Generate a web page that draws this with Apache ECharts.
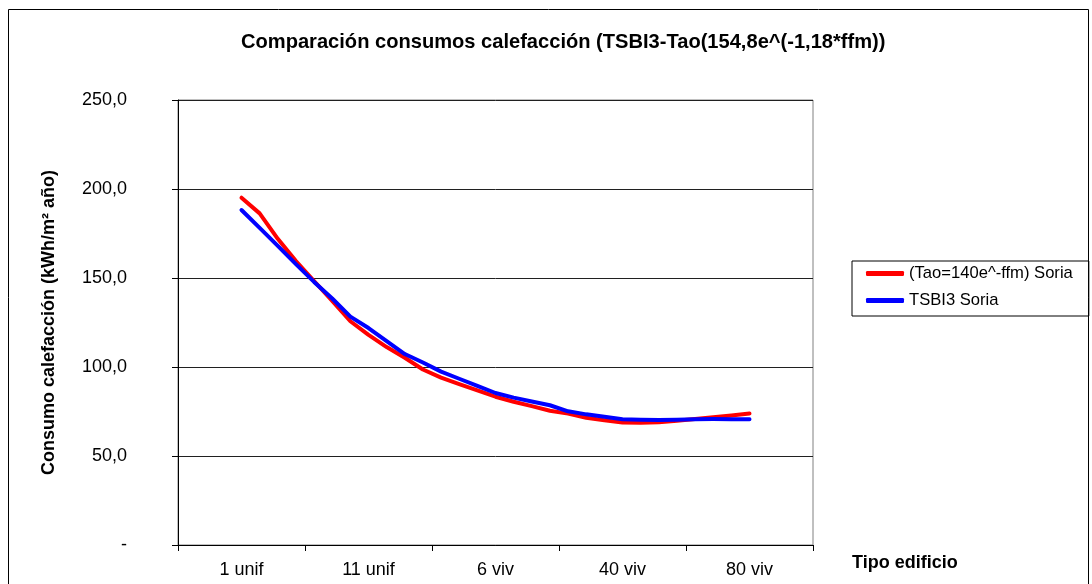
<!DOCTYPE html>
<html>
<head>
<meta charset="utf-8">
<script src="https://cdn.jsdelivr.net/npm/echarts@6/dist/echarts.min.js"></script>
<style>
html,body{margin:0;padding:0;background:#fff;}
#chart{width:1092px;height:584px;}
</style>
</head>
<body>
<div id="chart"></div>
<script>
// Tick labels of the category axis (one label per group of building types)
const tickLabels = ['1 unif', '11 unif', '6 viv', '40 viv', '80 viv'];
const groupSize = 7;
// Series values (kWh/m2 año)
const redValues = [195.1, 186.3, 172.0, 159.5, 148.3, 137.1, 125.7, 118.0, 111.2, 105.2,
  98.6, 94.0, 90.4, 86.9, 83.3, 80.5, 78.0, 75.4, 73.8, 71.5,
  70.1, 68.8, 68.7, 68.9, 69.8, 70.8, 71.8, 72.8, 73.9];
const blueValues = [188.2, 178.2, 168.0, 157.8, 147.8, 138.5, 128.3, 121.9, 114.6, 107.3,
  102.5, 97.4, 93.4, 89.4, 85.4, 82.8, 80.6, 78.5, 75.1, 73.4,
  72.0, 70.7, 70.4, 70.2, 70.4, 70.7, 70.8, 70.7, 70.6];
const seriesNames = ['(Tao=140e^-ffm) Soria', 'TSBI3 Soria'];
const yTicks = [0, 50, 100, 150, 200, 250];

const half = (groupSize - 1) / 2;
const nCats = tickLabels.length * groupSize;
const categories = [];
for (let i = 0; i < nCats; i++) categories.push('c' + i);
function pad(arr) {
  const out = [];
  for (let i = 0; i < half; i++) out.push(null);
  arr.forEach(v => out.push(v));
  while (out.length < nCats) out.push(null);
  return out;
}

const FONT = "'Liberation Sans', Arial, sans-serif";
const chart = echarts.init(document.getElementById('chart'), null, {renderer: 'canvas'});
chart.setOption({
  animation: false,
  backgroundColor: '#fff',
  textStyle: {fontFamily: FONT},
  title: {
    text: 'Comparación consumos calefacción (TSBI3-Tao(154,8e^(-1,18*ffm))',
    left: 236, top: 27,
    textStyle: {fontFamily: FONT, fontSize: 20.1, fontWeight: 'bold', color: '#000'}
  },
  legend: {
    orient: 'vertical',
    left: 852, top: 261,
    data: seriesNames,
    icon: 'roundRect',
    itemWidth: 38, itemHeight: 5,
    itemGap: 10,
    padding: [4, 16, 7, 14],
    borderColor: '#000', borderWidth: 1,
    textStyle: {fontFamily: FONT, fontSize: 16.6, color: '#000'}
  },
  grid: {left: 178, right: 279, top: 100, bottom: 39, show: true, borderColor: '#808080', borderWidth: 1},
  xAxis: {
    type: 'category',
    data: categories,
    boundaryGap: true,
    axisLine: {lineStyle: {color: '#000', width: 1}},
    axisTick: {show: true, length: 6, lineStyle: {color: '#000'}, interval: (idx) => idx % groupSize === 0},
    axisLabel: {
      interval: 0, margin: 16, color: '#000', fontSize: 18, fontFamily: FONT,
      formatter: (v, idx) => (idx % groupSize === half ? tickLabels[(idx - half) / groupSize] : '')
    },
    splitLine: {show: false}
  },
  yAxis: {
    type: 'value',
    min: yTicks[0], max: yTicks[yTicks.length - 1], interval: yTicks[1] - yTicks[0],
    name: 'Consumo calefacción (kWh/m² año)',
    nameLocation: 'middle', nameGap: 120, nameRotate: 90,
    nameTextStyle: {fontFamily: FONT, fontSize: 18, fontWeight: 'bold', color: '#000'},
    axisLine: {show: true, lineStyle: {color: '#000', width: 1}},
    axisTick: {show: true, length: 6, lineStyle: {color: '#000'}},
    axisLabel: {
      margin: 51, color: '#000', fontSize: 18, fontFamily: FONT,
      formatter: v => (v === 0 ? '-' : v.toFixed(1).replace('.', ','))
    },
    splitLine: {show: true, lineStyle: {color: '#202020', width: 1}}
  },
  graphic: [
    {type: 'rect', shape: {x: 8.5, y: 9.5, width: 1080, height: 600}, style: {fill: 'none', stroke: '#000', lineWidth: 1}, silent: true, z: -1},
    {type: 'text', left: 852, top: 554, style: {text: 'Tipo edificio', font: "bold 18px 'Liberation Sans', Arial, sans-serif", fill: '#000'}}
  ],
  series: [
    {name: seriesNames[0], type: 'line', data: pad(redValues), symbol: 'none', smooth: false,
     lineStyle: {color: '#ff0000', width: 4, cap: 'round', join: 'round'}, itemStyle: {color: '#ff0000'}, z: 2},
    {name: seriesNames[1], type: 'line', data: pad(blueValues), symbol: 'none', smooth: false,
     lineStyle: {color: '#0000ff', width: 4, cap: 'round', join: 'round'}, itemStyle: {color: '#0000ff'}, z: 3}
  ]
});
</script>
</body>
</html>
